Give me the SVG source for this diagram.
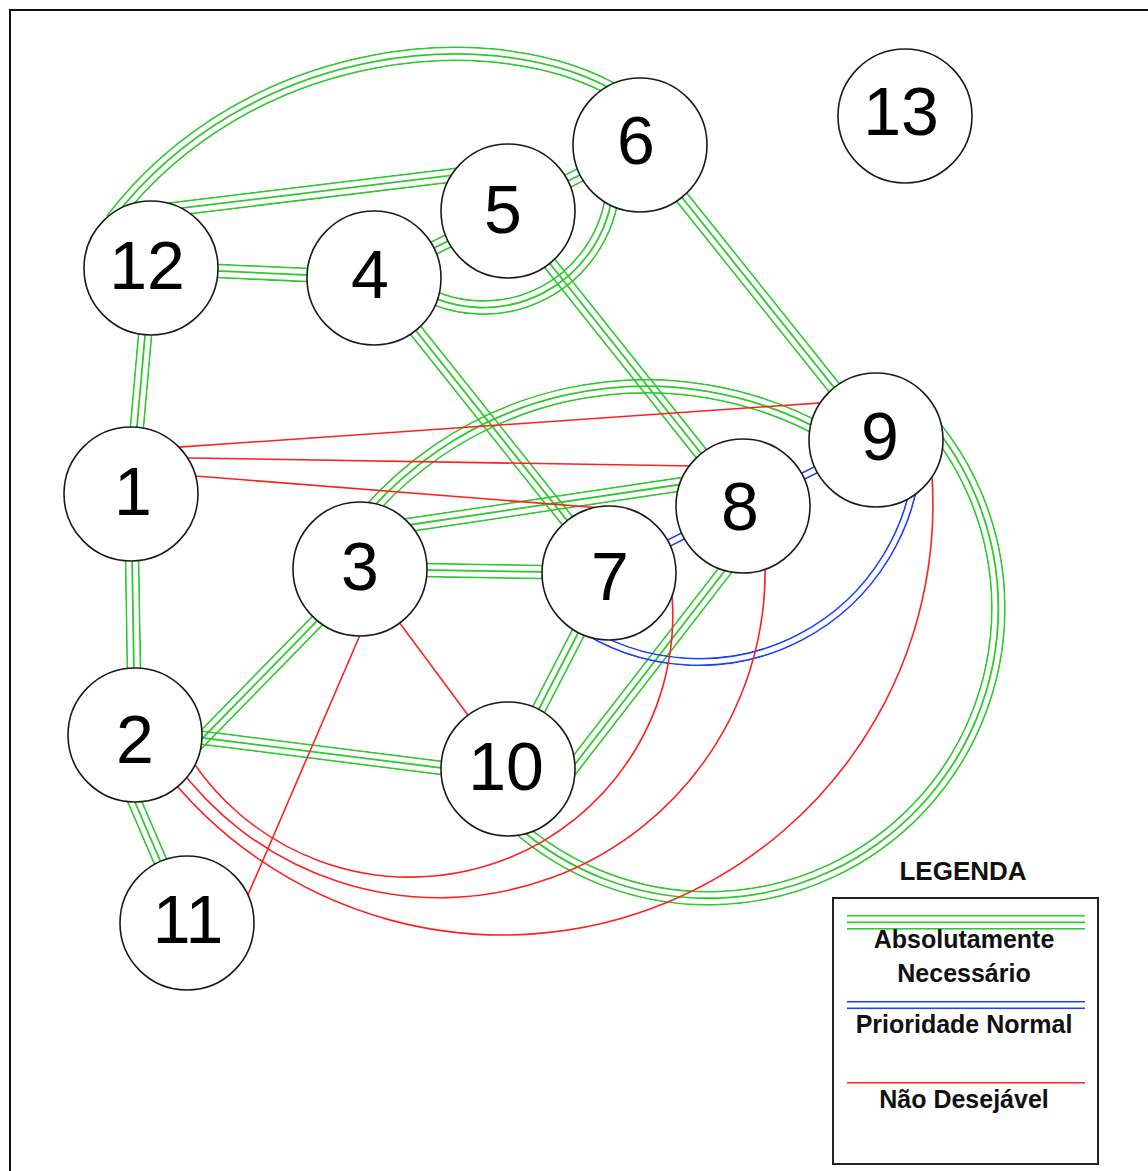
<svg xmlns="http://www.w3.org/2000/svg" xmlns:xlink="http://www.w3.org/1999/xlink" width="1148" height="1171" viewBox="0 0 1148 1171">
<style>
.node circle{fill:#fff;stroke:#1a1a1a;stroke-width:1.6}
.node text{font-family:"Liberation Sans",Arial,sans-serif;font-size:68px;text-anchor:middle;fill:#000}
.g{fill:none;stroke:#2fc82f;stroke-width:15}
.mw{fill:none;stroke:#fff;stroke-width:15}
.mb{fill:none;stroke:#000;stroke-width:11.5}
.mc{fill:none;stroke:#fff;stroke-width:1.8}
.b{fill:none;stroke:#2040ff;stroke-width:8.5}
.bw{fill:none;stroke:#fff;stroke-width:8.5}
.bb{fill:none;stroke:#000;stroke-width:5}
.r{fill:none;stroke:#ff2020;stroke-width:1.6}
.lt{font-family:"Liberation Sans",Arial,sans-serif;font-weight:bold;font-size:25px;text-anchor:middle;fill:#111}
</style>
<defs>
<path id="pG1" d="M112,220 C250,40 500,20 622,95"/>
<path id="pG2" d="M160,210.7 L470,173.2"/>
<path id="pG3" d="M151,268 L374,278"/>
<path id="pG4" d="M374,278 L508,211"/>
<path id="pG5" d="M508,211 L640,145"/>
<path id="pG6" d="M408.8,284 A130,130 0 0 0 613.4,177.5"/>
<path id="pG7" d="M151,268 L131,494"/>
<path id="pG8" d="M131,494 L135,735"/>
<path id="pG9" d="M110,744 L177,900"/>
<path id="pG10" d="M190,751 L330,607.7"/>
<path id="pG11" d="M180,735 L470,771.5"/>
<path id="pG12" d="M360,569 L609,573"/>
<path id="pG13" d="M395,527 L700,481.5"/>
<path id="pG14" d="M374,278 L609,573"/>
<path id="pG15" d="M508,211 L743,506"/>
<path id="pG16" d="M640,145 L876,440"/>
<path id="pG17" d="M609,573 L508,769"/>
<path id="pG18" d="M737,555 L555,790"/>
<path id="pG19" d="M343.9,543.6 A369.2,369.2 0 0 1 830.9,435.7"/>
<path id="pG20" d="M914.9,404.7 A290,290 0 0 1 514,823.5"/>
<path id="pB1" d="M609,573 L743,506"/>
<path id="pB2" d="M743,506 L876,440"/>
<path id="pB3" d="M573.4,622.4 A219,219 0 0 0 918,443"/>
<path id="pLG" d="M847,922.3 H1085"/>
<path id="pLB" d="M847,1005 H1085"/>
<mask id="mG1" maskUnits="userSpaceOnUse" x="0" y="0" width="1148" height="1171"><use href="#pG1" class="mw"/><use href="#pG1" class="mb"/><use href="#pG1" class="mc"/></mask>
<mask id="mG2" maskUnits="userSpaceOnUse" x="0" y="0" width="1148" height="1171"><use href="#pG2" class="mw"/><use href="#pG2" class="mb"/><use href="#pG2" class="mc"/></mask>
<mask id="mG3" maskUnits="userSpaceOnUse" x="0" y="0" width="1148" height="1171"><use href="#pG3" class="mw"/><use href="#pG3" class="mb"/><use href="#pG3" class="mc"/></mask>
<mask id="mG4" maskUnits="userSpaceOnUse" x="0" y="0" width="1148" height="1171"><use href="#pG4" class="mw"/><use href="#pG4" class="mb"/><use href="#pG4" class="mc"/></mask>
<mask id="mG5" maskUnits="userSpaceOnUse" x="0" y="0" width="1148" height="1171"><use href="#pG5" class="mw"/><use href="#pG5" class="mb"/><use href="#pG5" class="mc"/></mask>
<mask id="mG6" maskUnits="userSpaceOnUse" x="0" y="0" width="1148" height="1171"><use href="#pG6" class="mw"/><use href="#pG6" class="mb"/><use href="#pG6" class="mc"/></mask>
<mask id="mG7" maskUnits="userSpaceOnUse" x="0" y="0" width="1148" height="1171"><use href="#pG7" class="mw"/><use href="#pG7" class="mb"/><use href="#pG7" class="mc"/></mask>
<mask id="mG8" maskUnits="userSpaceOnUse" x="0" y="0" width="1148" height="1171"><use href="#pG8" class="mw"/><use href="#pG8" class="mb"/><use href="#pG8" class="mc"/></mask>
<mask id="mG9" maskUnits="userSpaceOnUse" x="0" y="0" width="1148" height="1171"><use href="#pG9" class="mw"/><use href="#pG9" class="mb"/><use href="#pG9" class="mc"/></mask>
<mask id="mG10" maskUnits="userSpaceOnUse" x="0" y="0" width="1148" height="1171"><use href="#pG10" class="mw"/><use href="#pG10" class="mb"/><use href="#pG10" class="mc"/></mask>
<mask id="mG11" maskUnits="userSpaceOnUse" x="0" y="0" width="1148" height="1171"><use href="#pG11" class="mw"/><use href="#pG11" class="mb"/><use href="#pG11" class="mc"/></mask>
<mask id="mG12" maskUnits="userSpaceOnUse" x="0" y="0" width="1148" height="1171"><use href="#pG12" class="mw"/><use href="#pG12" class="mb"/><use href="#pG12" class="mc"/></mask>
<mask id="mG13" maskUnits="userSpaceOnUse" x="0" y="0" width="1148" height="1171"><use href="#pG13" class="mw"/><use href="#pG13" class="mb"/><use href="#pG13" class="mc"/></mask>
<mask id="mG14" maskUnits="userSpaceOnUse" x="0" y="0" width="1148" height="1171"><use href="#pG14" class="mw"/><use href="#pG14" class="mb"/><use href="#pG14" class="mc"/></mask>
<mask id="mG15" maskUnits="userSpaceOnUse" x="0" y="0" width="1148" height="1171"><use href="#pG15" class="mw"/><use href="#pG15" class="mb"/><use href="#pG15" class="mc"/></mask>
<mask id="mG16" maskUnits="userSpaceOnUse" x="0" y="0" width="1148" height="1171"><use href="#pG16" class="mw"/><use href="#pG16" class="mb"/><use href="#pG16" class="mc"/></mask>
<mask id="mG17" maskUnits="userSpaceOnUse" x="0" y="0" width="1148" height="1171"><use href="#pG17" class="mw"/><use href="#pG17" class="mb"/><use href="#pG17" class="mc"/></mask>
<mask id="mG18" maskUnits="userSpaceOnUse" x="0" y="0" width="1148" height="1171"><use href="#pG18" class="mw"/><use href="#pG18" class="mb"/><use href="#pG18" class="mc"/></mask>
<mask id="mG19" maskUnits="userSpaceOnUse" x="0" y="0" width="1148" height="1171"><use href="#pG19" class="mw"/><use href="#pG19" class="mb"/><use href="#pG19" class="mc"/></mask>
<mask id="mG20" maskUnits="userSpaceOnUse" x="0" y="0" width="1148" height="1171"><use href="#pG20" class="mw"/><use href="#pG20" class="mb"/><use href="#pG20" class="mc"/></mask>
<mask id="mB1" maskUnits="userSpaceOnUse" x="0" y="0" width="1148" height="1171"><use href="#pB1" class="bw"/><use href="#pB1" class="bb"/></mask>
<mask id="mB2" maskUnits="userSpaceOnUse" x="0" y="0" width="1148" height="1171"><use href="#pB2" class="bw"/><use href="#pB2" class="bb"/></mask>
<mask id="mB3" maskUnits="userSpaceOnUse" x="0" y="0" width="1148" height="1171"><use href="#pB3" class="bw"/><use href="#pB3" class="bb"/></mask>
<mask id="mLG" maskUnits="userSpaceOnUse" x="0" y="0" width="1148" height="1171"><use href="#pLG" class="mw"/><use href="#pLG" class="mb"/><use href="#pLG" class="mc"/></mask>
<mask id="mLB" maskUnits="userSpaceOnUse" x="0" y="0" width="1148" height="1171"><use href="#pLB" class="bw"/><use href="#pLB" class="bb"/></mask>
</defs>
<rect x="0" y="0" width="1148" height="1171" fill="#fff"/>
<rect x="10" y="10" width="1160" height="1180" fill="none" stroke="#111" stroke-width="2"/>
<g id="connectors">
<use href="#pG1" class="g" mask="url(#mG1)"/>
<use href="#pG2" class="g" mask="url(#mG2)"/>
<use href="#pG3" class="g" mask="url(#mG3)"/>
<use href="#pG4" class="g" mask="url(#mG4)"/>
<use href="#pG5" class="g" mask="url(#mG5)"/>
<use href="#pG6" class="g" mask="url(#mG6)"/>
<use href="#pG7" class="g" mask="url(#mG7)"/>
<use href="#pG8" class="g" mask="url(#mG8)"/>
<use href="#pG9" class="g" mask="url(#mG9)"/>
<use href="#pG10" class="g" mask="url(#mG10)"/>
<use href="#pG11" class="g" mask="url(#mG11)"/>
<use href="#pG12" class="g" mask="url(#mG12)"/>
<use href="#pG13" class="g" mask="url(#mG13)"/>
<use href="#pG14" class="g" mask="url(#mG14)"/>
<use href="#pG15" class="g" mask="url(#mG15)"/>
<use href="#pG16" class="g" mask="url(#mG16)"/>
<use href="#pG17" class="g" mask="url(#mG17)"/>
<use href="#pG18" class="g" mask="url(#mG18)"/>
<use href="#pG19" class="g" mask="url(#mG19)"/>
<use href="#pG20" class="g" mask="url(#mG20)"/>
<use href="#pB1" class="b" mask="url(#mB1)"/>
<use href="#pB2" class="b" mask="url(#mB2)"/>
<use href="#pB3" class="b" mask="url(#mB3)"/>
<path class="r" d="M150,449.1 L850,400.9"/>
<path class="r" d="M160,457.5 L710,466.3"/>
<path class="r" d="M160,473.2 L605,508.3"/>
<path class="r" d="M368.2,616 L240.2,913"/>
<path class="r" d="M385.2,603.4 L488.7,742.9"/>
<path class="r" d="M182.8,745.8 A262.6,262.6 0 0 0 669.6,573.4"/>
<path class="r" d="M169.4,754.2 A325.7,325.7 0 0 0 763.3,538.1"/>
<path class="r" d="M159.1,763.7 A430.2,430.2 0 0 0 928.7,444.9"/>
</g>
<g id="node-1" class="node"><circle cx="131" cy="494" r="67"/><text x="133" y="515">1</text></g>
<g id="node-2" class="node"><circle cx="135" cy="735" r="67"/><text x="135" y="763">2</text></g>
<g id="node-3" class="node"><circle cx="360" cy="569" r="67"/><text x="360" y="590">3</text></g>
<g id="node-4" class="node"><circle cx="374" cy="278" r="67"/><text x="370" y="298">4</text></g>
<g id="node-5" class="node"><circle cx="508" cy="211" r="67"/><text x="503" y="233">5</text></g>
<g id="node-6" class="node"><circle cx="640" cy="145" r="67"/><text x="636" y="164">6</text></g>
<g id="node-7" class="node"><circle cx="609" cy="573" r="67"/><text x="610" y="600">7</text></g>
<g id="node-8" class="node"><circle cx="743" cy="506" r="67"/><text x="740" y="530">8</text></g>
<g id="node-9" class="node"><circle cx="876" cy="440" r="67"/><text x="880" y="460">9</text></g>
<g id="node-10" class="node"><circle cx="508" cy="769" r="67"/><text x="506" y="790">10</text></g>
<g id="node-11" class="node"><circle cx="187" cy="923" r="67"/><text x="188" y="943">11</text></g>
<g id="node-12" class="node"><circle cx="151" cy="268" r="67"/><text x="147" y="289">12</text></g>
<g id="node-13" class="node"><circle cx="905" cy="116" r="67"/><text x="901" y="135">13</text></g>
<g id="legend">
<text class="lt" x="963" y="880" style="font-size:26px">LEGENDA</text>
<rect x="833" y="898" width="265" height="266" fill="none" stroke="#222" stroke-width="2"/>
<use href="#pLG" class="g" mask="url(#mLG)"/>
<text class="lt" x="964" y="948">Absolutamente</text>
<text class="lt" x="964" y="982">Necessário</text>
<use href="#pLB" class="b" mask="url(#mLB)"/>
<text class="lt" x="964" y="1033">Prioridade Normal</text>
<path class="r" d="M847,1082.7 H1085"/>
<text class="lt" x="964" y="1108">Não Desejável</text>
</g>
</svg>
